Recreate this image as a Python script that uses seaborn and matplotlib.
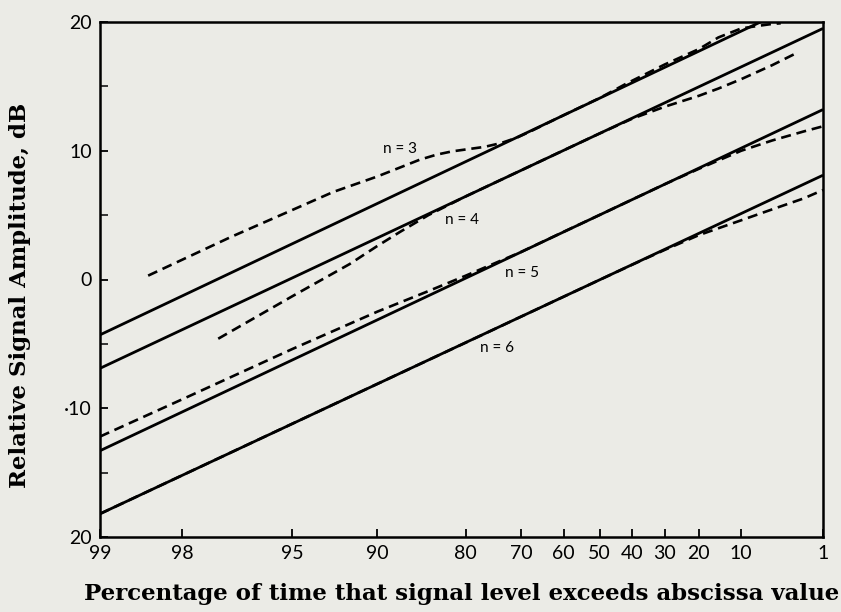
import numpy as np
import pandas as pd
import matplotlib
matplotlib.use("Agg")
import matplotlib.pyplot as plt
import seaborn as sns

# ---------------- data ----------------
x_ticks = [99, 98, 95, 90, 80, 70, 60, 50, 40, 30, 20, 10, 1]
x_tick_labels = ["99", "98", "95", "90", "80", "70", "60", "50", "40", "30", "20", "10", "1"]
y_ticks = [20, 10, 0, -10, -20]
y_tick_labels = ["20", "10", "0", "·10", "20"]

solid_pct = [99, 1]
solid_n3 = [-4.3, 22.3]
solid_n4 = [-6.9, 19.5]
solid_n5 = [-13.3, 13.2]
solid_n6 = [-18.2, 8.1]

dash_n3_pct = [98.5, 97, 95, 93, 90, 88, 86, 84, 82, 80, 77, 74, 71, 68, 60, 50, 42, 30, 20, 15, 10, 7, 5, 4]
dash_n3_db = [0.3, 3.3, 5.4, 6.8, 8.0, 8.7, 9.3, 9.7, 9.95, 10.1, 10.3, 10.6, 11.0, 11.5, 12.76, 14.09, 15.2, 16.7, 17.9, 18.8, 19.5, 19.7, 19.85, 19.9]

dash_n4_pct = [97.3, 95, 92, 90, 88, 85, 80, 70, 60, 50, 40, 30, 20, 15, 10, 5, 2.5]
dash_n4_db = [-4.6, -1.3, 1.2, 2.6, 3.7, 5.0, 6.46, 8.48, 10.03, 11.34, 12.5, 13.42, 14.27, 14.83, 15.56, 16.65, 17.6]

dash_n5_pct = [99, 98, 95, 90, 85, 80, 70, 60, 50, 40, 30, 20, 10, 5, 2, 1]
dash_n5_db = [-12.2, -9.3, -5.4, -2.5, -0.9, 0.3, 2.14, 3.7, 5.01, 6.22, 7.4, 8.6, 10.0, 10.8, 11.5, 11.9]

dash_n6_pct = [99, 95, 90, 80, 70, 60, 50, 40, 30, 20, 10, 5, 2, 1]
dash_n6_db = [-18.2, -11.2, -8.11, -4.9, -2.88, -1.34, -0.03, 1.16, 2.3, 3.45, 4.6, 5.45, 6.3, 6.95]

labels = ["n = 3", "n = 4", "n = 5", "n = 6"]
label_pct = [88.0, 80.6, 69.8, 74.8]
label_db = [10.1, 4.6, 0.5, -5.3]

# ---------------- styling ----------------
paper = "#ebebe6"
sns.set_theme(style="white")
plt.rcParams["font.family"] = ["Lato", "DejaVu Sans"]

fig = plt.figure(figsize=(8.41, 6.12), dpi=100, facecolor=paper)
ax = fig.add_axes([100 / 841, 1 - 537 / 612, 723 / 841, 515 / 612])
ax.set_facecolor(paper)


# Rayleigh probability scale (increasing in percentage; axis is inverted below)
def fwd(x):
    p = np.clip(np.asarray(x, dtype=float) / 100.0, 1e-9, 1 - 1e-9)
    return -np.log10(-np.log(p))


def inv(u):
    return 100.0 * np.exp(-np.power(10.0, -np.asarray(u, dtype=float)))


ax.set_xscale("function", functions=(fwd, inv))

solid_kw = dict(color="black", linewidth=2.0, solid_capstyle="butt")
dash_kw = dict(color="black", linewidth=1.9, linestyle=(0, (3.8, 2.2)))

for vals in (solid_n3, solid_n4, solid_n5, solid_n6):
    df = pd.DataFrame({"pct": solid_pct, "db": vals})
    sns.lineplot(data=df, x="pct", y="db", ax=ax, sort=False, **solid_kw)

for p, v in ((dash_n3_pct, dash_n3_db), (dash_n4_pct, dash_n4_db),
             (dash_n5_pct, dash_n5_db), (dash_n6_pct, dash_n6_db)):
    df = pd.DataFrame({"pct": p, "db": v})
    sns.lineplot(data=df, x="pct", y="db", ax=ax, sort=False, **dash_kw)

for t, px, py in zip(labels, label_pct, label_db):
    ax.text(px, py, t, fontsize=11, ha="center", va="center", color="black")

ax.set_xlim(99, 1)
ax.set_ylim(-20, 20)
ax.set_xticks(x_ticks)
ax.set_xticklabels(x_tick_labels)
ax.set_yticks(y_ticks)
ax.set_yticklabels(y_tick_labels)
ax.set_yticks([15, 5, -5, -15], minor=True)
ax.xaxis.set_minor_locator(matplotlib.ticker.NullLocator())

ax.tick_params(axis="both", which="major", direction="in", length=6, width=1.3,
               labelsize=14, colors="black", pad=6)
ax.tick_params(axis="y", which="minor", direction="in", length=6, width=1.3, left=True)
ax.tick_params(axis="x", bottom=True)
ax.tick_params(axis="y", left=True)

for s in ax.spines.values():
    s.set_visible(True)
    s.set_color("black")
    s.set_linewidth(1.8)

ax.set_xlabel("Percentage of time that signal level exceeds abscissa value",
              family="DejaVu Serif", fontweight="bold", fontsize=16.5, labelpad=15,
              color="black")
ax.set_ylabel("Relative Signal Amplitude, dB",
              family="DejaVu Serif", fontweight="bold", fontsize=16.5, labelpad=18,
              color="black")
ax.yaxis.set_label_coords(-0.095, 0.47)

fig.savefig("out.png", dpi=100, facecolor=paper)
